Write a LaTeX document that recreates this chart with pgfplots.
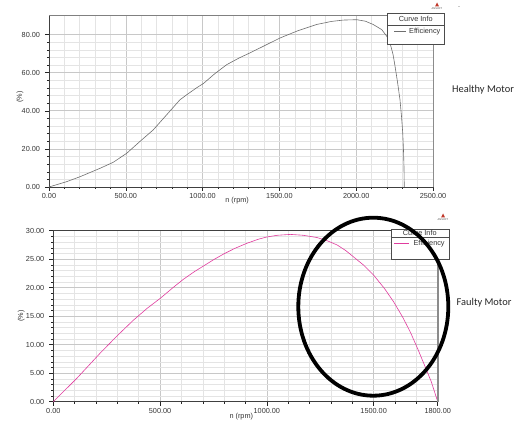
\documentclass[border=0pt]{standalone}
\usepackage{fontspec}
\setmainfont{Liberation Sans}
\newfontfamily\calib{Carlito}
\usepackage{pgfplots}
\pgfplotsset{compat=1.18}
\definecolor{gridmaj}{HTML}{C8C8C8}
\definecolor{gridmin}{HTML}{E4E4E4}
\definecolor{healthy}{HTML}{6E6E6E}
\definecolor{faulty}{HTML}{E03C9E}
\definecolor{ansred}{HTML}{C0392B}
\pgfplotsset{ansoft/.style={
  scale only axis, anchor=south west,
  grid=both,
  major grid style={gridmaj, line width=0.6pt},
  minor grid style={gridmin, line width=0.5pt},
  tick pos=left, tick align=outside,
  major tick length=4pt, minor tick length=2pt,
  every tick/.style={black!85, line width=0.5pt},
  axis line style={black!75, line width=0.6pt},
  tick label style={font=\fontsize{7.3}{8}\selectfont, text=black!80},
  yticklabel style={xshift=-1.5pt},
  xticklabel style={yshift=1pt},
  label style={font=\fontsize{7.3}{8}\selectfont, text=black!80},
  /pgf/number format/.cd, fixed, fixed zerofill, precision=2, 1000 sep={}, assume math mode=true,
  /pgfplots/.cd,
  clip=false,
}}
\begin{document}
\begin{tikzpicture}[x=1pt,y=1pt]
\useasboundingbox (0,0) rectangle (516,423);
% ---------------- Healthy motor ----------------
\begin{axis}[ansoft,
  at={(49pt,236pt)}, width=384pt, height=171.5pt,
  xmin=0, xmax=2500, ymin=0, ymax=90,
  xtick={0,500,1000,1500,2000,2500}, minor x tick num=4,
  ytick={0,20,40,60,80}, minor y tick num=4,
  xlabel={n (rpm)},
  xlabel style={at={(axis description cs:0.49,-0.082)}, anchor=center},
  ylabel={(\%)},
  ylabel style={at={(axis description cs:-0.0755,0.525)}, anchor=center},
]
\addplot[healthy, line width=0.6pt] coordinates {
(0,0) (115,2.8) (202,5.4) (332,9.8) (419,13) (506,17.7) (592,23.9) (679,30)
(766,37.9) (853,45.8) (900,48.6) (960,52.0) (1005,54.3) (1080,59.5) (1157,64.2) (1240,67.8) (1309,70.4)
(1374,73) (1504,78.2) (1620,82.0) (1743,85.3) (1840,86.9) (1916,87.6) (2003,87.8) (2060,87.0) (2110,85.3)
(2166,82.6) (2200,79.0) (2220,75.6) (2240,69.5) (2253,63.3) (2270,54.5) (2285,45.8) (2295,37)
(2303,28.3) (2308,19) (2311,10.7) (2313,0)
};
\draw[black!50, line width=1.8pt] (rel axis cs:0,1) -- (rel axis cs:1,1);
\draw[black!45, line width=0.8pt] (rel axis cs:1,0) -- (rel axis cs:1,1);
\end{axis}
% legend (healthy)
\draw[black!70, line width=0.7pt, fill=white] (387.7,410) rectangle (444,379);
\draw[black!70, line width=0.5pt] (387.7,398) -- (444,398);
\node[font=\fontsize{7.3}{8}\selectfont, text=black!80] at (415.8,403.8) {Curve Info};
\draw[healthy, line width=0.8pt] (394,391.3) -- (405.5,391.3);
\node[font=\fontsize{7.3}{8}\selectfont, text=black!80, anchor=west, inner sep=0pt] at (409,391.3) {Efficiency};
% ansoft logo
\fill[ansred] (437,420.5) -- (435,416.5) -- (439,416.5) -- cycle;
\node[font=\fontsize{2.6}{3}\selectfont, text=black!70, inner sep=0pt] at (437,414.6) {ANSOFT};
\node[font=\fontsize{6}{6}\selectfont, text=black!60, inner sep=0pt] at (459,415) {-};
\node[font=\calib\fontsize{10.4}{12}\selectfont, text=black!85, anchor=west, inner sep=0pt] at (452,333) {Healthy Motor};
% ---------------- Faulty motor ----------------
\begin{axis}[ansoft,
  at={(53.3pt,21.3pt)}, width=384.4pt, height=171pt,
  xmin=0, xmax=1800, ymin=0, ymax=30,
  xtick={0,500,1000,1500,1800},
  minor xtick={100,200,300,400,600,700,800,900,1100,1200,1300,1400,1600,1700},
  ytick={0,5,10,15,20,25,30}, minor y tick num=4,
  xlabel={n (rpm)},
  xlabel style={at={(axis description cs:0.489,-0.087)}, anchor=center},
  ylabel={(\%)},
  ylabel style={at={(axis description cs:-0.0832,0.50)}, anchor=center},
]
\addplot[faulty, line width=0.6pt] coordinates {
(0,0) (110,4.1) (219,8.5) (300,11.6) (375,14.3) (440,16.4) (503,18.2) (560,20.0) (610,21.5) (660,22.8) (703,23.8)
(750,24.9) (797,25.9) (850,26.9) (907,27.8) (960,28.5) (1000,28.9) (1050,29.2) (1110,29.35) (1170,29.2) (1235,28.8)
(1285,28.2) (1329,27.5) (1370,26.5) (1406,25.4) (1455,23.9) (1500,22.2) (1550,19.9) (1594,17.5) (1635,14.9)
(1672,12.2) (1705,9.4) (1735,6.7) (1770,3.5) (1800,0)
};
\draw[black!45, line width=1.6pt] (rel axis cs:1,0) -- (rel axis cs:1,1);
\end{axis}
% legend (faulty)
\draw[black!70, line width=0.7pt, fill=white] (391.7,194) rectangle (449,164);
\draw[black!70, line width=0.5pt] (391.7,185.7) -- (449,185.7);
\node[font=\fontsize{7.3}{8}\selectfont, text=black!80] at (419.8,190.2) {Curve Info};
\draw[faulty, line width=1.3pt] (394,179.3) -- (409.3,179.3);
\node[font=\fontsize{7.3}{8}\selectfont, text=black!80, anchor=west, inner sep=0pt] at (413.3,179.3) {Efficiency};
% ansoft logo
\fill[ansred] (443,209.5) -- (441,205.5) -- (445,205.5) -- cycle;
\node[font=\fontsize{2.6}{3}\selectfont, text=black!70, inner sep=0pt] at (443,203.6) {ANSOFT};
% ellipse annotation
\draw[black, line width=3.8pt] (373.3,116.3) ellipse [x radius=75, y radius=89];
\node[font=\calib\fontsize{10.4}{12}\selectfont, text=black!85, anchor=west, inner sep=0pt] at (456.5,120) {Faulty Motor};
\end{tikzpicture}
\end{document}
